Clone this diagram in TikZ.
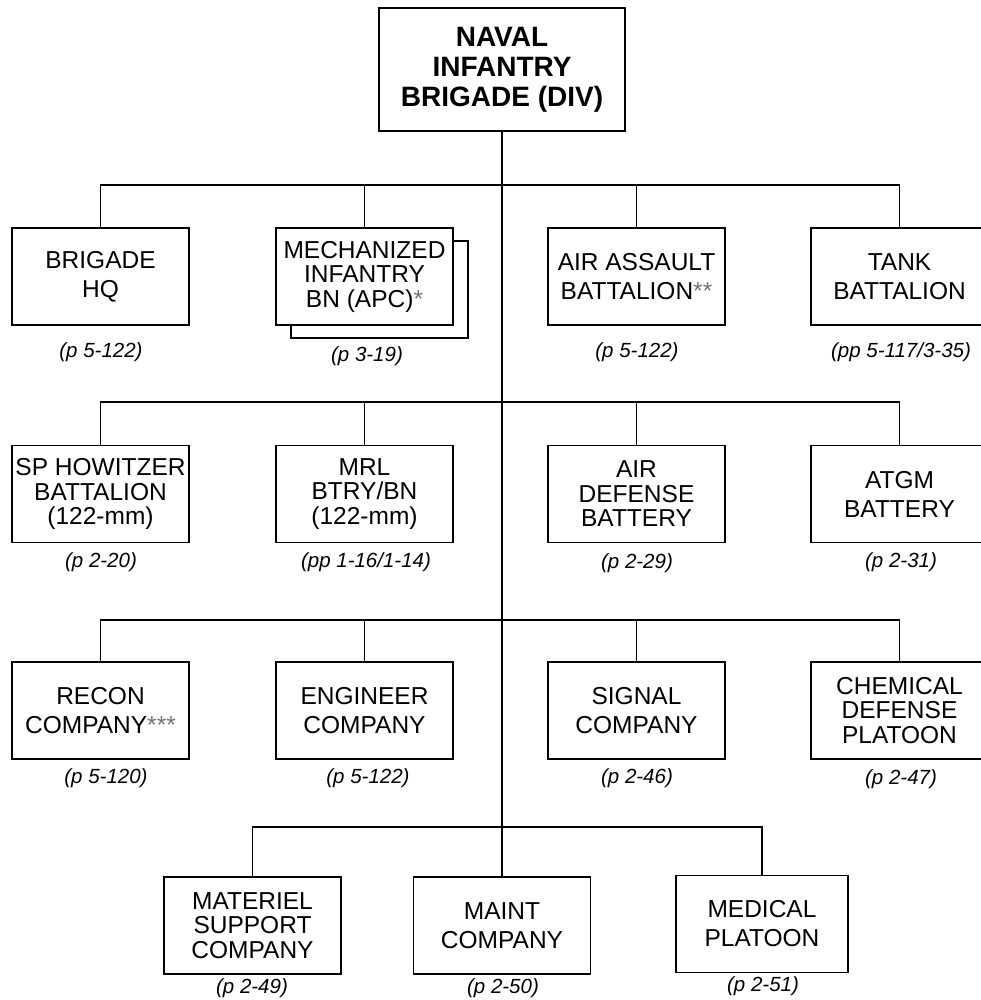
\documentclass[tikz,border=0pt]{standalone}
\usepackage{fontspec}
\setmainfont{Liberation Sans}
\newcommand{\lightstar}[1]{\textcolor{black!55}{#1}}
\begin{document}
\begin{tikzpicture}[x=1pt,y=-1pt,
  unit/.style={draw, line width=1.5pt, fill=white, minimum width=177pt, minimum height=97pt,
    inner sep=0pt, align=center, font=\fontsize{24.5}{29}\selectfont},
  three/.style={font=\fontsize{24.5}{24.5}\selectfont},
  pageref/.style={font=\fontsize{20.5}{24}\selectfont\itshape, inner sep=0pt},
  link/.style={line width=1.5pt}]
\useasboundingbox (0,0) rectangle (980,1000);

% top
\node[unit, minimum width=246pt, minimum height=123pt, font=\bfseries\fontsize{28}{30}\selectfont] (top) at (502,69.5) {NAVAL\\INFANTRY\\BRIGADE (DIV)};

% row 1
\node[unit] (hq) at (100.5,276.5) {BRIGADE\\HQ};
\node[unit] (mechshadow) at (379.5,289.5) {};
\node[unit, three] (mech) at (364.5,276.5) {MECHANIZED\\INFANTRY\\BN (APC)\lightstar{*}};
\node[unit] (air) at (636.5,276.5) {AIR ASSAULT\\BATTALION\lightstar{**}};
\node[unit] (tank) at (899.5,276.5) {TANK\\BATTALION};

% row 2
\node[unit, three] (sph) at (100.5,494) {SP HOWITZER\\BATTALION\\(122-mm)};
\node[unit, three] (mrl) at (364.5,494) {MRL\\BTRY/BN\\(122-mm)};
\node[unit, three] (ad) at (636.5,494) {AIR\\DEFENSE\\BATTERY};
\node[unit] (atgm) at (899.5,494) {ATGM\\BATTERY};

% row 3
\node[unit] (recon) at (100.5,710.5) {RECON\\COMPANY\lightstar{***}};
\node[unit] (eng) at (364.5,710.5) {ENGINEER\\COMPANY};
\node[unit] (sig) at (636.5,710.5) {SIGNAL\\COMPANY};
\node[unit, three] (chem) at (899.5,710.5) {CHEMICAL\\DEFENSE\\PLATOON};

% row 4
\node[unit, three] (mat) at (252.5,925.5) {MATERIEL\\SUPPORT\\COMPANY};
\node[unit] (maint) at (502,925.5) {MAINT\\COMPANY};
\node[unit, minimum width=172pt] (med) at (762,924) {MEDICAL\\PLATOON};

% bus coordinates
\coordinate (b1) at (502,185);
\coordinate (b2) at (502,402);
\coordinate (b3) at (502,620);
\coordinate (b4) at (502,827);

% trunk
\draw[link] (top.south) -- (maint.north);

% row 1 links
\draw[link] (hq.north) -- (hq.north |- b1) -- (tank.north |- b1) -- (tank.north);
\draw[link] (mech.north) -- (mech.north |- b1);
\draw[link] (air.north) -- (air.north |- b1);

% row 2 links
\draw[link] (sph.north) -- (sph.north |- b2) -- (atgm.north |- b2) -- (atgm.north);
\draw[link] (mrl.north) -- (mrl.north |- b2);
\draw[link] (ad.north) -- (ad.north |- b2);

% row 3 links
\draw[link] (recon.north) -- (recon.north |- b3) -- (chem.north |- b3) -- (chem.north);
\draw[link] (eng.north) -- (eng.north |- b3);
\draw[link] (sig.north) -- (sig.north |- b3);

% row 4 links
\draw[link] (mat.north) -- (mat.north |- b4) -- (med.north |- b4) -- (med.north);

% captions
\node[pageref] (c11) at (101,352) {(p 5-122)};
\node[pageref] (c12) at (367,356) {(p 3-19)};
\node[pageref] (c13) at (637,352) {(p 5-122)};
\node[pageref] (c14) at (901,352) {(pp 5-117/3-35)};

\node[pageref] (c21) at (101,562) {(p 2-20)};
\node[pageref] (c22) at (366,562) {(pp 1-16/1-14)};
\node[pageref] (c23) at (637,563) {(p 2-29)};
\node[pageref] (c24) at (901,562) {(p 2-31)};

\node[pageref] (c31) at (106,778) {(p 5-120)};
\node[pageref] (c32) at (368,778) {(p 5-122)};
\node[pageref] (c33) at (637,778) {(p 2-46)};
\node[pageref] (c34) at (901,779) {(p 2-47)};

\node[pageref] (c41) at (252,988) {(p 2-49)};
\node[pageref] (c42) at (503,988) {(p 2-50)};
\node[pageref] (c43) at (763,986) {(p 2-51)};
\end{tikzpicture}
\end{document}
